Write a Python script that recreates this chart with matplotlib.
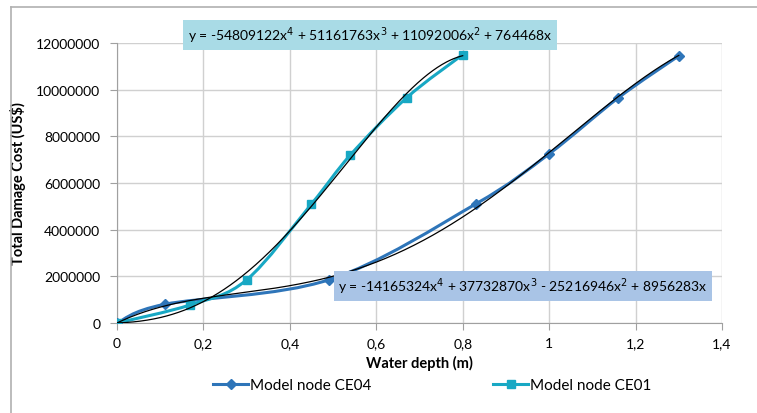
import matplotlib
matplotlib.use("Agg")
import matplotlib.pyplot as plt
import numpy as np
from matplotlib.path import Path
from matplotlib.patches import PathPatch
from matplotlib.lines import Line2D

plt.rcParams['font.family'] = ['Lato', 'DejaVu Sans']

# Data
ce04_x = [0, 0.11, 0.49, 0.83, 1.0, 1.16, 1.30]
ce04_y = [0, 800000, 1850000, 5100000, 7250000, 9650000, 11450000]
ce01_x = [0, 0.17, 0.30, 0.45, 0.54, 0.67, 0.80]
ce01_y = [0, 780000, 1850000, 5100000, 7200000, 9650000, 11500000]

# Polynomial trendline coefficients (x^4, x^3, x^2, x, const)
ce01_coef = [-54809122, 51161763, 11092006, 764468, 0]
ce04_coef = [-14165324, 37732870, -25216946, 8956283, 0]
ce01_eq = "y = -54809122x$^4$ + 51161763x$^3$ + 11092006x$^2$ + 764468x"
ce04_eq = "y = -14165324x$^4$ + 37732870x$^3$ - 25216946x$^2$ + 8956283x"

xticks = [0, 0.2, 0.4, 0.6, 0.8, 1.0, 1.2, 1.4]
xticklabels = ["0", "0,2", "0,4", "0,6", "0,8", "1", "1,2", "1,4"]
yticks = [0, 2000000, 4000000, 6000000, 8000000, 10000000, 12000000]
yticklabels = ["0", "2000000", "4000000", "6000000", "8000000", "10000000", "12000000"]

c04 = "#2e75b9"
c01 = "#18a8c4"

W, H = 757, 414
fig = plt.figure(figsize=(W / 100, H / 100), dpi=100)
ax = fig.add_axes([117 / W, 1 - 324 / H, (722 - 117) / W, (324 - 44) / H])


def smooth_path(xs, ys):
    pts = np.column_stack([xs, ys]).astype(float)
    n = len(pts)
    verts = [pts[0]]
    codes = [Path.MOVETO]
    for i in range(n - 1):
        p0 = pts[i - 1] if i > 0 else pts[i]
        p1 = pts[i]
        p2 = pts[i + 1]
        p3 = pts[i + 2] if i + 2 < n else pts[i + 1]
        c1 = p1 + (p2 - p0) / 6.0
        c2 = p2 - (p3 - p1) / 6.0
        verts += [c1, c2, p2]
        codes += [Path.CURVE4] * 3
    return Path(verts, codes)


for xs, ys, col, mk, ms in [(ce04_x, ce04_y, c04, "D", 5), (ce01_x, ce01_y, c01, "s", 6)]:
    ax.add_patch(PathPatch(smooth_path(xs, ys), facecolor="none", edgecolor=col, lw=2.2, zorder=3))
    ax.plot(xs, ys, linestyle="none", marker=mk, ms=ms, color=col, zorder=4)

# trendlines
for coef, xs in [(ce01_coef, ce01_x), (ce04_coef, ce04_x)]:
    xx = np.linspace(xs[0], xs[-1], 300)
    ax.plot(xx, np.polyval(coef, xx), color="black", lw=0.9, zorder=5)

ax.set_xlim(0, 1.4)
ax.set_ylim(0, 12000000)
ax.set_xticks(xticks)
ax.set_xticklabels(xticklabels)
ax.set_yticks(yticks)
ax.set_yticklabels(yticklabels)
ax.grid(True, color="#d0d0d0", lw=1)
ax.set_axisbelow(True)
for s in ["top", "right"]:
    ax.spines[s].set_visible(False)
for s in ["left", "bottom"]:
    ax.spines[s].set_color("#a0a0a0")
ax.tick_params(axis="both", colors="#a0a0a0", labelcolor="black", labelsize=10, length=5)
ax.tick_params(axis="y", pad=7)
ax.tick_params(axis="x", pad=5)
ax.set_xlabel("Water depth (m)", fontsize=10.5, fontweight="bold", labelpad=4)
ax.set_ylabel("Total Damage Cost (US$)", fontsize=10.5, fontweight="bold", labelpad=7)

fig.text(370 / W, 1 - 36 / H, ce01_eq, ha="center", va="center", fontsize=10,
         bbox=dict(boxstyle="square,pad=0.35", fc="#a9dbe6", ec="none"))
fig.text(523 / W, 1 - 287 / H, ce04_eq, ha="center", va="center", fontsize=10,
         bbox=dict(boxstyle="square,pad=0.35", fc="#a9c4e6", ec="none"), zorder=6)

h1 = Line2D([], [], color=c04, lw=2.2, marker="D", ms=5)
h2 = Line2D([], [], color=c01, lw=2.2, marker="s", ms=6)
for h, lab, x0 in [(h1, "Model node CE04", 213), (h2, "Model node CE01", 493)]:
    fig.legend([h], [lab], loc="center left", bbox_to_anchor=(x0 / W, 1 - 386 / H),
               frameon=False, fontsize=11, handlelength=2.3, handletextpad=0.15,
               borderaxespad=0, borderpad=0)

# outer chart border
fig.add_artist(Line2D([11 / W, 11 / W], [0, 1 - 8 / H], color="#b0b0b0", lw=1.2, transform=fig.transFigure))
fig.add_artist(Line2D([11 / W, 1], [1 - 8 / H, 1 - 8 / H], color="#b0b0b0", lw=1.2, transform=fig.transFigure))

fig.savefig("out.png", dpi=100)
